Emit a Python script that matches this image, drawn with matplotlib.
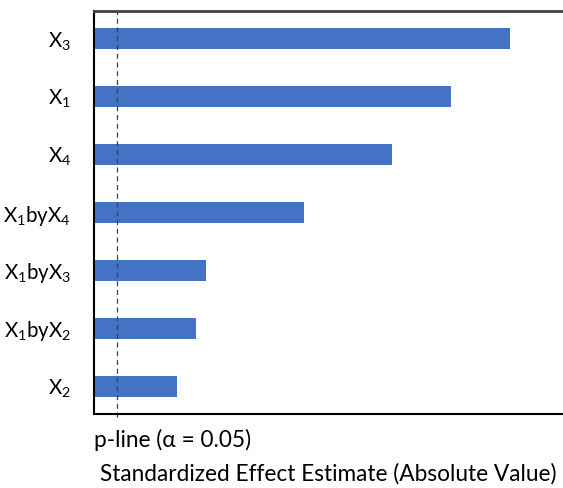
#!/usr/bin/env python3

import matplotlib
matplotlib.use('Agg')
import matplotlib.pyplot as plt

# Pareto chart of standardized effects, top to bottom
terms = ['X$_3$', 'X$_1$', 'X$_4$', 'X$_1$byX$_4$',
         'X$_1$byX$_3$', 'X$_1$byX$_2$', 'X$_2$']
effects = [36.2, 31.1, 25.9, 18.3, 9.7, 8.9, 7.2]
p_line = 2.0
p_label = 'p-line (\u03b1 = 0.05)'
x_title = 'Standardized Effect Estimate (Absolute Value)'

plt.rcParams['font.family'] = ['Lato', 'DejaVu Sans']
plt.rcParams['mathtext.fontset'] = 'custom'
plt.rcParams['mathtext.rm'] = 'Lato'
plt.rcParams['mathtext.it'] = 'Lato:italic'
plt.rcParams['mathtext.default'] = 'rm'


def run():
    fig = plt.figure(figsize=(5.63, 4.88), dpi=100)
    ax = fig.add_axes([94 / 563, 1 - 414 / 488, 1 - 94 / 563, (414 - 11) / 488])

    pos = list(range(len(terms)))[::-1]
    ax.barh(pos, effects, height=0.36, color='#4472C4')
    # dashed significance line, running a little past the bottom spine
    ax.axvline(p_line, color='#404040', linestyle=(0, (4, 3)), linewidth=0.9,
               ymin=-0.008, ymax=1, clip_on=False)

    ax.set_xlim(0, 40.8)
    ax.set_ylim(-0.48, 6.48)
    ax.set_yticks(pos)
    ax.set_yticklabels(terms, fontsize=14.8)
    ax.tick_params(axis='y', length=0, pad=16.5)
    ax.set_xticks([])

    ax.spines['right'].set_visible(False)
    ax.spines['left'].set_color('black')
    ax.spines['left'].set_linewidth(1.5)
    ax.spines['bottom'].set_color('black')
    ax.spines['bottom'].set_linewidth(1.5)
    ax.spines['top'].set_color('#404040')
    ax.spines['top'].set_linewidth(2)

    ax.text(0, -0.065, p_label, transform=ax.get_xaxis_transform(),
            ha='left', va='center', fontsize=16.3)
    ax.set_xlabel(x_title, fontsize=16.3, labelpad=35)

    fig.savefig('out.png', dpi=100)


if __name__ == '__main__':
    run()
